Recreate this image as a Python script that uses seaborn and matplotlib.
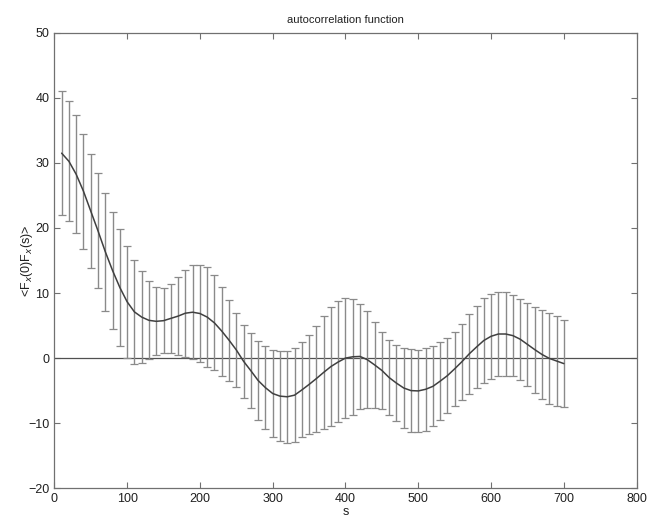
import numpy as np
import pandas as pd
import matplotlib
matplotlib.use("Agg")
import matplotlib.pyplot as plt
import seaborn as sns

# lag values (s) where the error bars sit
lags = list(range(10, 701, 10))

# upper and lower ends of the error bars
upper = [41.0, 39.5, 37.3, 34.5, 31.4, 28.4, 25.4, 22.5, 19.8, 17.3,
         15.1, 13.4, 11.8, 10.9, 10.7, 11.4, 12.4, 13.6, 14.3, 14.3,
         14.0, 12.7, 11.0, 9.0, 7.0, 5.1, 3.8, 2.6, 1.8, 1.3,
         1.1, 1.1, 1.5, 2.4, 3.6, 5.0, 6.5, 7.8, 8.7, 9.2,
         9.1, 8.3, 7.2, 5.6, 4.0, 2.8, 2.0, 1.5, 1.4, 1.3,
         1.6, 1.8, 2.4, 3.1, 4.0, 5.3, 6.8, 8.0, 9.2, 9.9,
         10.2, 10.1, 9.7, 9.1, 8.5, 7.9, 7.4, 6.9, 6.4, 5.8]
lower = [22.0, 21.0, 19.2, 16.8, 13.8, 10.7, 7.3, 4.4, 1.9, 0.0,
         -0.9, -0.8, -0.2, 0.4, 0.8, 0.8, 0.5, 0.2, -0.2, -0.6,
         -1.4, -1.9, -2.7, -3.5, -4.5, -6.1, -7.7, -9.5, -10.9, -12.2,
         -12.8, -13.0, -12.9, -12.2, -11.7, -11.3, -10.9, -10.4, -9.9, -9.2,
         -8.7, -7.8, -7.7, -7.7, -7.8, -8.8, -9.7, -10.7, -11.4, -11.4,
         -11.2, -10.5, -9.5, -8.5, -7.3, -6.4, -5.5, -4.6, -3.8, -3.2,
         -2.8, -2.7, -2.8, -3.3, -4.3, -5.3, -6.3, -7.0, -7.3, -7.5]

df = pd.DataFrame({"s": lags, "upper": upper, "lower": lower})
df["mean"] = (df["upper"] + df["lower"]) / 2
df["err"] = (df["upper"] - df["lower"]) / 2

sns.set_style("ticks")
plt.rcParams["font.family"] = ["Liberation Sans", "DejaVu Sans"]

fig = plt.figure(figsize=(6.47, 5.21), dpi=100)
ax = fig.add_axes([0.084, 0.063, 0.9, 0.874])

# zero line across the whole axis
ax.axhline(0, color="#505050", linewidth=0.9, zorder=1)

# error bars
ax.errorbar(df["s"], df["mean"], yerr=df["err"], fmt="none",
            ecolor="#8a8a8a", elinewidth=1.0, capsize=3.2, capthick=0.9, zorder=2)

# mean curve
sns.lineplot(data=df, x="s", y="mean", color="#404040", linewidth=1.1, ax=ax, zorder=3)

ax.set_xlim(0, 800)
ax.set_ylim(-20, 50)
ax.set_xticks(range(0, 801, 100))
ax.set_yticks(range(-20, 51, 10))
ax.set_yticklabels(["\u221220", "\u221210", "0", "10", "20", "30", "40", "50"])
ax.tick_params(direction="in", top=True, right=True, labelsize=9,
               color="#707070", length=4, labelcolor="#202020")
for sp in ax.spines.values():
    sp.set_color("#707070")
    sp.set_linewidth(0.9)

ax.set_title("autocorrelation function", fontsize=8, color="#202020", pad=7)
ax.set_xlabel("s", fontsize=9, color="#202020", labelpad=1)
ax.set_ylabel("<F$_x$(0)F$_x$(s)>", fontsize=9, color="#202020", labelpad=-5)

fig.savefig("out.png", dpi=100)
